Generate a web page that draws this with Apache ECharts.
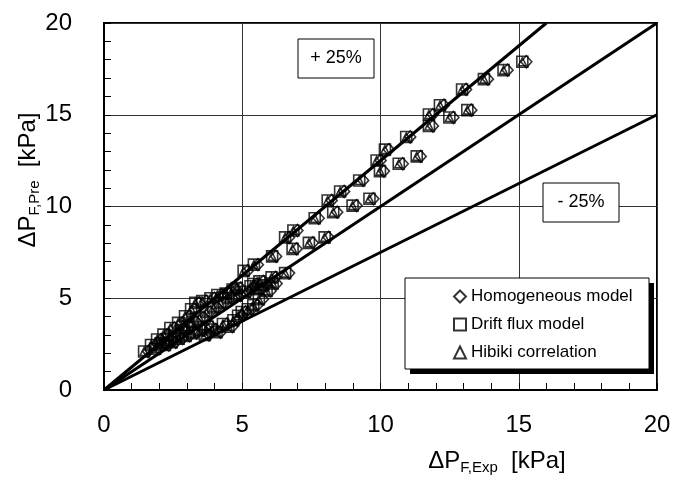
<!DOCTYPE html>
<html><head><meta charset="utf-8">
<script src="https://cdn.jsdelivr.net/npm/echarts@6/dist/echarts.min.js"></script>
<style>html,body{margin:0;padding:0;background:#fff}#c{width:680px;height:479px}</style>
</head><body><div id="c"></div>
<script>
// Experimental frictional pressure drop [kPa]
const expDp = [15.13,14.45,13.74,12.95,12.15,11.75,11.75,12.49,13.14,10.93,10.16,9.86,9.98,10.66,11.31,9.23,8.54,8.09,8.29,8.99,9.60,7.62,7.98,7.41,6.85,6.55,6.82,6.08,5.42,5.05,6.55,6.06,5.62,5.40,4.80,
1.45,1.70,1.92,2.15,2.40,2.68,2.93,3.15,3.30,3.55,3.85,4.10,4.40,4.65,
1.85,2.05,2.30,2.55,2.80,3.00,3.20,3.45,3.70,3.95,4.20,4.50,4.80,5.10,
2.20,2.45,2.70,2.95,3.20,3.45,3.65,3.75,3.90,4.07,4.30,4.50,4.68,4.85,4.98,5.20,5.40,5.60,5.88,6.10,
5.30,5.55,5.75];
// Predicted values (markers of the three models coincide in the picture)
const homogeneousPre = [17.89,17.43,16.94,16.38,15.52,15.01,14.39,14.85,15.25,13.79,13.10,12.51,11.93,12.33,12.73,11.42,10.82,10.33,9.69,10.05,10.42,9.36,8.32,8.02,8.69,8.32,7.69,7.28,6.83,6.49,6.37,6.14,5.92,5.78,5.55,
2.10,2.45,2.75,3.02,3.38,3.66,4.02,4.40,4.75,4.85,5.00,5.18,5.25,5.48,
2.25,2.55,2.75,2.95,3.25,3.45,3.70,3.95,4.25,4.50,4.75,5.00,5.15,5.35,
2.45,2.60,2.80,2.95,3.10,3.25,3.00,3.45,3.30,3.15,3.60,3.45,3.80,4.05,4.25,4.40,4.62,4.95,5.40,5.80,
5.65,5.50,5.70];
const driftFluxPre = [17.89,17.43,16.94,16.38,15.52,15.01,14.39,14.85,15.25,13.79,13.10,12.51,11.93,12.33,12.73,11.42,10.82,10.33,9.69,10.05,10.42,9.36,8.32,8.02,8.69,8.32,7.69,7.28,6.83,6.49,6.37,6.14,5.92,5.78,5.55,
2.10,2.45,2.75,3.02,3.38,3.66,4.02,4.40,4.75,4.85,5.00,5.18,5.25,5.48,
2.25,2.55,2.75,2.95,3.25,3.45,3.70,3.95,4.25,4.50,4.75,5.00,5.15,5.35,
2.45,2.60,2.80,2.95,3.10,3.25,3.00,3.45,3.30,3.15,3.60,3.45,3.80,4.05,4.25,4.40,4.62,4.95,5.40,5.80,
5.65,5.50,5.70];
const hibikiPre = [17.89,17.43,16.94,16.38,15.52,15.01,14.39,14.85,15.25,13.79,13.10,12.51,11.93,12.33,12.73,11.42,10.82,10.33,9.69,10.05,10.42,9.36,8.32,8.02,8.69,8.32,7.69,7.28,6.83,6.49,6.37,6.14,5.92,5.78,5.55,
2.10,2.45,2.75,3.02,3.38,3.66,4.02,4.40,4.75,4.85,5.00,5.18,5.25,5.48,
2.25,2.55,2.75,2.95,3.25,3.45,3.70,3.95,4.25,4.50,4.75,5.00,5.15,5.35,
2.45,2.60,2.80,2.95,3.10,3.25,3.00,3.45,3.30,3.15,3.60,3.45,3.80,4.05,4.25,4.40,4.62,4.95,5.40,5.80,
5.65,5.50,5.70];
const seriesNames = ['Homogeneous model', 'Drift flux model', 'Hibiki correlation'];
const axisTickValues = [0, 5, 10, 15, 20];
const plus25Line = [[0, 0], [16, 20]];
const equalLine = [[0, 0], [20, 20]];
const minus25Line = [[0, 0], [20, 15]];
const bandLabels = ['+ 25%', '- 25%'];

const FONT = '"Liberation Sans", Arial, sans-serif';
const toPairs = ys => expDp.map((x, i) => [x, ys[i]]);
const chart = echarts.init(document.getElementById('c'), null, {renderer: 'canvas'});

function axis(margin) {
  return {
    type: 'value', min: axisTickValues[0], max: axisTickValues[axisTickValues.length - 1], interval: axisTickValues[1] - axisTickValues[0],
    axisLine: {show: true, onZero: false, lineStyle: {color: '#000', width: 2}},
    axisTick: {show: true, inside: true, length: 7, lineStyle: {color: '#000', width: 1}},
    minorTick: {show: true, splitNumber: 5, length: 7, lineStyle: {color: '#000', width: 1}},
    splitLine: {show: true, lineStyle: {color: '#333', width: 1}},
    axisLabel: {color: '#000', fontSize: 24, fontFamily: FONT, margin: margin}
  };
}
const marker = {color: 'transparent', borderColor: '#000', borderWidth: 1.6};
const refLine = data => ({type: 'line', data: data, symbol: 'none', silent: true, z: 3,
  lineStyle: {color: '#000', width: 3}});

chart.setOption({
  animation: false,
  backgroundColor: '#fff',
  grid: {left: 104, right: 23, top: 23, bottom: 89, show: true, borderColor: '#000', borderWidth: 2, backgroundColor: 'transparent'},
  xAxis: axis(23),
  yAxis: axis(32),
  legend: {
    orient: 'vertical', left: 405, top: 278, z: 20,
    data: seriesNames,
    padding: [10, 18, 10, 48], itemGap: 11, itemWidth: 12, itemHeight: 12,
    backgroundColor: 'transparent', borderWidth: 0,
    textStyle: {fontSize: 17, fontFamily: FONT, color: '#000'}
  },
  series: [
    refLine(plus25Line), refLine(equalLine), refLine(minus25Line),
    {name: seriesNames[0], type: 'scatter', data: toPairs(homogeneousPre), symbol: 'diamond', symbolSize: [11, 12], symbolOffset: [4, 0], itemStyle: marker, z: 4},
    {name: seriesNames[1], type: 'scatter', data: toPairs(driftFluxPre), symbol: 'rect', symbolSize: 11, itemStyle: marker, z: 4},
    {name: seriesNames[2], type: 'scatter', data: toPairs(hibikiPre), symbol: 'triangle', symbolSize: 8, itemStyle: marker, z: 4}
  ],
  graphic: [
    {type: 'rect', z: 10, shape: {x: 410, y: 283, width: 244, height: 91}, style: {fill: '#000'}},
    {type: 'rect', z: 11, shape: {x: 405, y: 278, width: 244, height: 91}, style: {fill: '#fff', stroke: '#000', lineWidth: 1}},
    {type: 'rect', z: 100, shape: {x: 298, y: 39, width: 76, height: 39}, style: {fill: '#fff', stroke: '#000', lineWidth: 1}},
    {type: 'text', z: 101, x: 336, y: 58.5, style: {text: bandLabels[0], font: '18px ' + FONT, fill: '#000', align: 'center', verticalAlign: 'middle'}},
    {type: 'rect', z: 100, shape: {x: 543, y: 183, width: 76, height: 39}, style: {fill: '#fff', stroke: '#000', lineWidth: 1}},
    {type: 'text', z: 101, x: 581, y: 202.5, style: {text: bandLabels[1], font: '18px ' + FONT, fill: '#000', align: 'center', verticalAlign: 'middle'}},
    {type: 'text', z: 101, x: 497, y: 461, style: {
      text: '{a|ΔP}{b|F,Exp}{a|  [kPa]}', align: 'center', verticalAlign: 'middle',
      rich: {a: {fontSize: 24, fontFamily: FONT, fill: '#000', lineHeight: 28},
             b: {fontSize: 15, fontFamily: FONT, fill: '#000', lineHeight: 12, verticalAlign: 'bottom'}}}},
    {type: 'text', z: 101, x: 28, y: 180, rotation: Math.PI / 2, style: {
      text: '{a|ΔP}{b|F,Pre}{a|  [kPa]}', align: 'center', verticalAlign: 'middle',
      rich: {a: {fontSize: 24, fontFamily: FONT, fill: '#000', lineHeight: 28},
             b: {fontSize: 15, fontFamily: FONT, fill: '#000', lineHeight: 12, verticalAlign: 'bottom'}}}}
  ]
});
</script></body></html>
